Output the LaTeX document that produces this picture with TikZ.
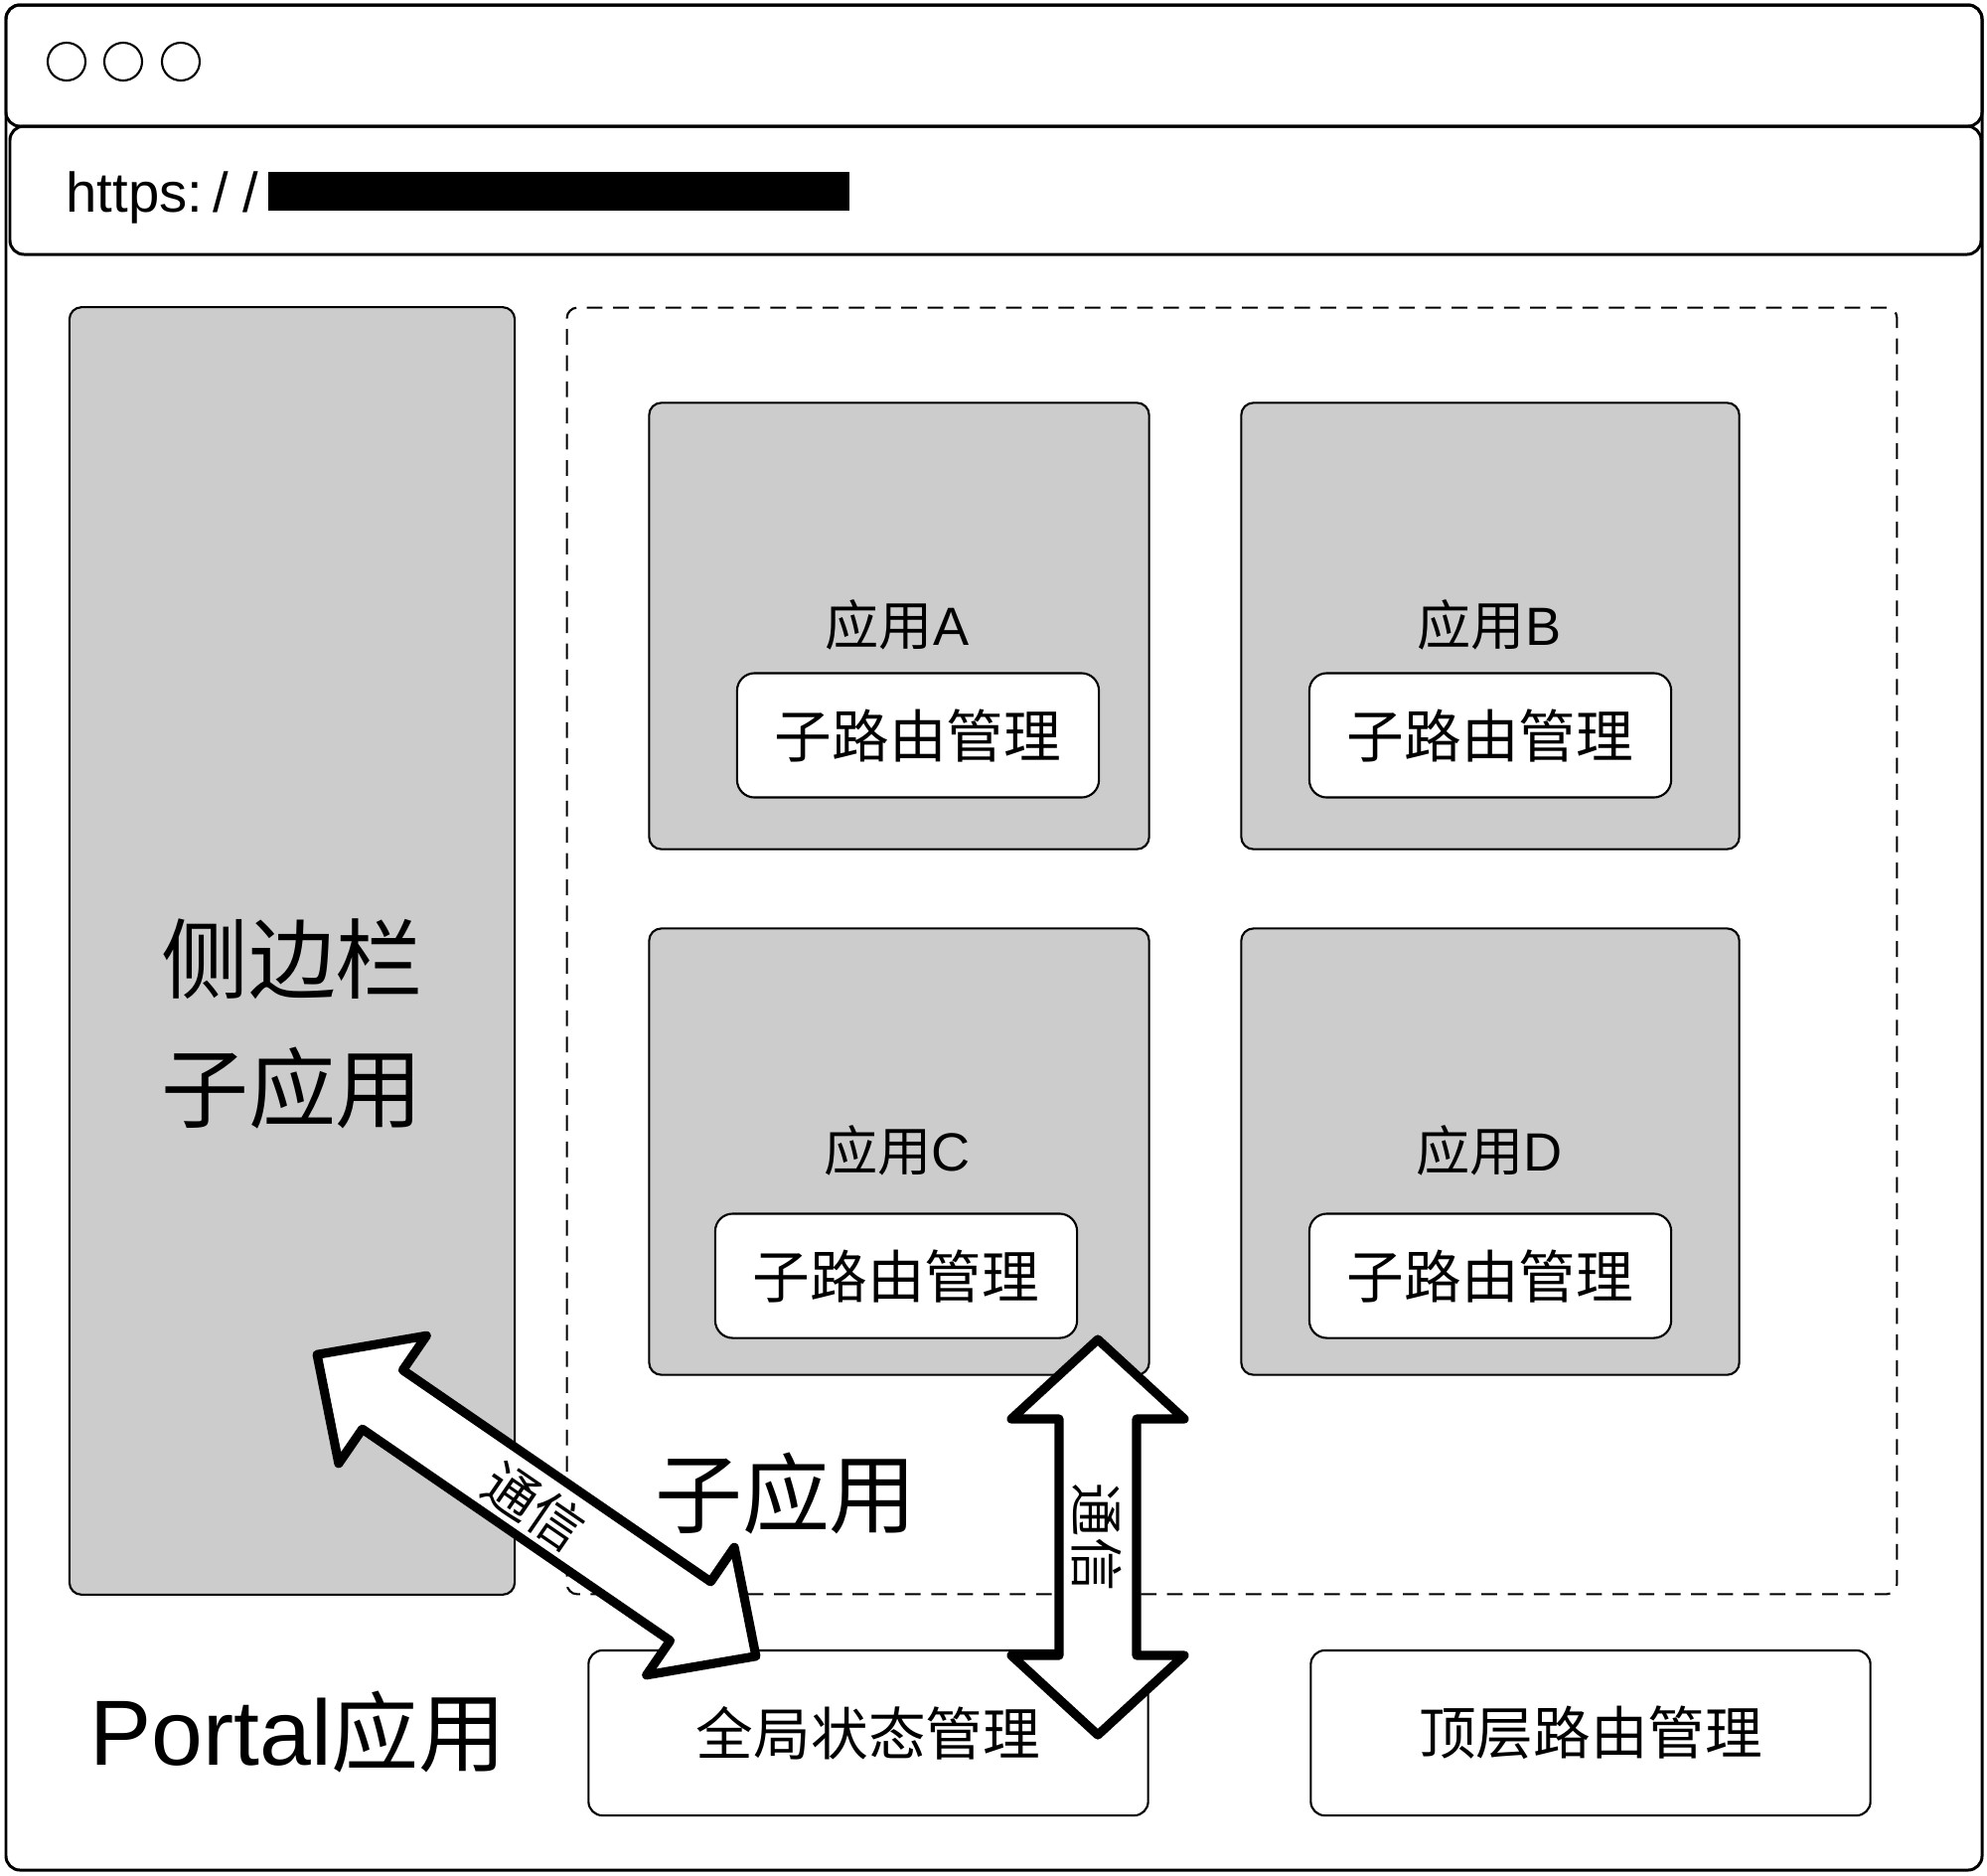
\documentclass[tikz,border=0pt]{standalone}
\usepackage{fontspec}
\setmainfont{Liberation Sans}
\newfontfamily\cjk{Noto Sans CJK SC}
\definecolor{appgray}{HTML}{CCCCCC}
\newcommand\fsbig{\fontsize{25pt}{37pt}\selectfont}
\newcommand\fsbox{\fontsize{16.4pt}{20pt}\selectfont}
\newcommand\fslabel{\fontsize{15.4pt}{19pt}\selectfont}
\newcommand\fsurl{\fontsize{16pt}{19pt}\selectfont}

\begin{document}
\begin{tikzpicture}[
    x=0.01cm, y=-0.01cm,
    frame/.style={draw, line width=0.85pt, rounded corners=4pt},
    appbox/.style={draw, line width=0.6pt, fill=appgray, rounded corners=3.5pt, inner sep=0pt},
    routebox/.style={draw, line width=0.6pt, fill=white, rounded corners=5pt, font=\cjk\fsbox, inner sep=0pt, minimum width=3.64cm, minimum height=1.25cm},
    mgrbox/.style={draw, line width=0.6pt, fill=white, rounded corners=4pt, font=\cjk\fsbox, inner sep=0pt, minimum width=5.63cm, minimum height=1.66cm},
    applabel/.style={font=\fslabel, inner sep=0pt},
    biglabel/.style={font=\fsbig, align=center, inner sep=0pt},
    commarrow/.style={draw, fill=white, line width=2.6pt, line join=round},
    commlabel/.style={font=\cjk\fslabel, inner sep=0pt}
  ]
  \useasboundingbox (0,0) rectangle (2000,1887);

  % 浏览器外框
  \draw[frame] (6,5) rectangle (1995,1882);
  \draw[frame] (6,5) rectangle (1995,127);
  \draw[frame] (10,127) rectangle (1994,256);
  \foreach \cx in {67,124,182}
    \draw[line width=0.6pt] (\cx,62) circle[radius=0.19cm];
  \node[font=\fsurl, anchor=base west, inner sep=0pt] (url) at (66,213) {https:\kern3pt/\kern4pt/};
  \fill (270,173) rectangle (855,212);

  % 侧边栏
  \node[appbox, minimum width=4.48cm, minimum height=12.95cm] (sidebar) at (294,957) {};
  \node[biglabel, font=\cjk\fsbig] (sidebartext) at (294,1030) {侧边栏\\子应用};

  % 子应用区域
  \node[draw, dash pattern=on 4.5pt off 3pt, line width=0.6pt, rounded corners=3pt,
        minimum width=13.38cm, minimum height=12.94cm, inner sep=0pt] (subarea) at (1240,957) {};
  \node[biglabel, font=\cjk\fsbig] (subtext) at (791,1503) {子应用};

  \node[appbox, minimum width=5.03cm, minimum height=4.49cm] (appA) at (905,630) {};
  \node[appbox, minimum width=5.01cm, minimum height=4.49cm] (appB) at (1500,630) {};
  \node[appbox, minimum width=5.03cm, minimum height=4.49cm] (appC) at (905,1159) {};
  \node[appbox, minimum width=5.01cm, minimum height=4.49cm] (appD) at (1500,1159) {};

  \node[applabel] (labelA) at (903,629) {{\cjk 应用}A};
  \node[applabel] (labelB) at (1499,629) {{\cjk 应用}B};
  \node[applabel] (labelC) at (903,1158) {{\cjk 应用}C};
  \node[applabel] (labelD) at (1499,1158) {{\cjk 应用}D};

  \node[routebox] (routeA) at (924,740) {子路由管理};
  \node[routebox] (routeB) at (1500,740) {子路由管理};
  \node[routebox] (routeC) at (902,1284) {子路由管理};
  \node[routebox] (routeD) at (1500,1284) {子路由管理};

  % Portal应用
  \node[biglabel] (portal) at (300,1743) {{\fontsize{26.5pt}{37pt}\selectfont Portal}{\cjk 应用}};
  \node[mgrbox] (state) at (874,1744) {全局状态管理};
  \node[mgrbox] (toproute) at (1601,1744) {顶层路由管理};

  % 通信箭头
  \begin{scope}[shift={(540,1515)}, rotate=-34.5]
    \draw[commarrow] (-268,0) -- (-188,-78) -- (-188,-36) -- (188,-36) -- (188,-78)
      -- (268,0) -- (188,78) -- (188,36) -- (-188,36) -- (-188,78) -- cycle;
  \end{scope}
  \node[commlabel, rotate=-34.5] (comm1) at (538,1516) {通信};

  \begin{scope}[shift={(1105,1547)}, rotate=-90]
    \draw[commarrow] (-199,0) -- (-119,-87) -- (-119,-39) -- (119,-39) -- (119,-87)
      -- (199,0) -- (119,87) -- (119,39) -- (-119,39) -- (-119,87) -- cycle;
  \end{scope}
  \node[commlabel, rotate=-90] (comm2) at (1104,1547) {通信};

\end{tikzpicture}
\end{document}
